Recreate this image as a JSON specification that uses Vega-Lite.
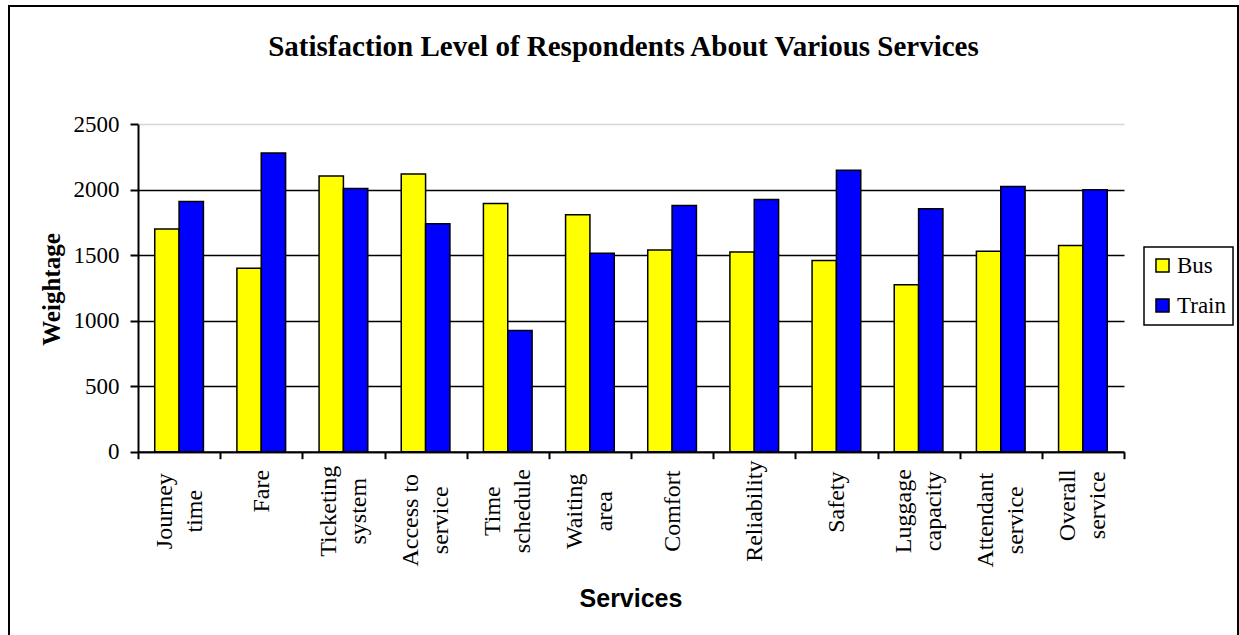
{
  "$schema": "https://vega.github.io/schema/vega-lite/v6.json",
  "width": 1229,
  "height": 640,
  "autosize": {"type": "none"},
  "padding": {"left": 9, "top": 6, "right": 1, "bottom": -11},
  "background": "white",
  "title": {
    "text": "Satisfaction Level of Respondents About Various Services",
    "font": "Liberation Serif",
    "fontSize": 29,
    "fontWeight": "bold",
    "color": "black",
    "anchor": "middle",
    "baseline": "alphabetic",
    "offset": -48.5,
    "dy": 30
  },
  "data": {
    "values": [
      {"service": "Journey time", "mode": "Bus", "weight": 1700},
      {"service": "Journey time", "mode": "Train", "weight": 1910},
      {"service": "Fare", "mode": "Bus", "weight": 1400},
      {"service": "Fare", "mode": "Train", "weight": 2280},
      {"service": "Ticketing system", "mode": "Bus", "weight": 2105},
      {"service": "Ticketing system", "mode": "Train", "weight": 2010},
      {"service": "Access to service", "mode": "Bus", "weight": 2120},
      {"service": "Access to service", "mode": "Train", "weight": 1740},
      {"service": "Time schedule", "mode": "Bus", "weight": 1895},
      {"service": "Time schedule", "mode": "Train", "weight": 925},
      {"service": "Waiting area", "mode": "Bus", "weight": 1810},
      {"service": "Waiting area", "mode": "Train", "weight": 1515},
      {"service": "Comfort", "mode": "Bus", "weight": 1540},
      {"service": "Comfort", "mode": "Train", "weight": 1880},
      {"service": "Reliability", "mode": "Bus", "weight": 1525},
      {"service": "Reliability", "mode": "Train", "weight": 1925},
      {"service": "Safety", "mode": "Bus", "weight": 1460},
      {"service": "Safety", "mode": "Train", "weight": 2150},
      {"service": "Luggage capacity", "mode": "Bus", "weight": 1275},
      {"service": "Luggage capacity", "mode": "Train", "weight": 1855},
      {"service": "Attendant service", "mode": "Bus", "weight": 1530},
      {"service": "Attendant service", "mode": "Train", "weight": 2025},
      {"service": "Overall service", "mode": "Bus", "weight": 1575},
      {"service": "Overall service", "mode": "Train", "weight": 2000}
    ]
  },
  "mark": {"type": "bar", "stroke": "black", "strokeWidth": 1.5},
  "encoding": {
    "x": {
      "field": "service",
      "type": "nominal",
      "sort": null,
      "scale": {"range": [129, 1115], "paddingInner": 0, "paddingOuter": 0},
      "axis": {
        "title": "Services",
        "offset": -194.3,
        "domainColor": "black",
        "domainWidth": 2,
        "tickColor": "black",
        "tickWidth": 2,
        "tickSize": 7,
        "tickBand": "extent",
        "grid": false,
        "labelAngle": 270,
        "labelAlign": "center",
        "labelBaseline": "middle",
        "labelFont": "Liberation Serif",
        "labelFontSize": 24,
        "labelLineHeight": 30,
        "labelColor": "black",
        "labelOverlap": false,
        "labelBound": false,
        "labelLimit": 300,
        "labelExpr": "!isString(datum.value) ? '' : datum.value == 'Access to service' ? ['Access to', 'service'] : split(datum.value, ' ')",
        "labelOffset": {"condition": {"test": "isString(datum.value) && indexof(datum.value, ' ') >= 0", "value": -15}, "value": 0},
        "labelPadding": {
          "condition": [
            {"test": "datum.value == 'Fare'", "value": 32},
            {"test": "datum.value == 'Safety'", "value": 43},
            {"test": "datum.value == 'Overall service'", "value": 46},
            {"test": "datum.value == 'Access to service' || datum.value == 'Attendant service'", "value": 61}
          ],
          "value": 52
        },
        "titleFont": "Liberation Sans",
        "titleFontSize": 25,
        "titleFontWeight": "bold",
        "titleColor": "black",
        "titleAlign": "center",
        "titleBaseline": "alphabetic",
        "titleX": 621.5,
        "titleY": 154.5
      }
    },
    "xOffset": {
      "field": "mode",
      "sort": ["Bus", "Train"],
      "scale": {"paddingInner": 0, "paddingOuter": 0.6875}
    },
    "y": {
      "field": "weight",
      "type": "quantitative",
      "scale": {"domain": [0, 2500], "range": [445.7, 118.3], "nice": false, "zero": true},
      "axis": {
        "title": "Weightage",
        "values": [0, 500, 1000, 1500, 2000, 2500],
        "format": "d",
        "offset": -129,
        "domainColor": "black",
        "domainWidth": 2,
        "tickColor": "black",
        "tickWidth": 2,
        "tickSize": 8,
        "labelFont": "Liberation Serif",
        "labelFontSize": 23,
        "labelColor": "black",
        "labelPadding": 11,
        "grid": true,
        "gridColor": {"condition": {"test": "datum.value == 2500", "value": "#d6d6d6"}, "value": "black"},
        "gridWidth": 1.5,
        "titleFont": "Liberation Serif",
        "titleFontSize": 25,
        "titleFontWeight": "bold",
        "titleColor": "black",
        "titleAngle": 270,
        "titleAlign": "center",
        "titleBaseline": "middle",
        "titleX": -86.5,
        "titleY": 283
      }
    },
    "color": {
      "field": "mode",
      "type": "nominal",
      "scale": {"domain": ["Bus", "Train"], "range": ["#FFFF00", "#0000FF"]},
      "legend": {
        "title": null,
        "orient": "none",
        "legendX": 1135,
        "legendY": 241,
        "direction": "vertical",
        "symbolType": "square",
        "symbolSize": 170,
        "symbolStrokeColor": "black",
        "symbolStrokeWidth": 1.5,
        "symbolOpacity": 1,
        "labelFont": "Liberation Serif",
        "labelFontSize": 23,
        "labelColor": "black",
        "labelOffset": 3,
        "rowPadding": 16,
        "padding": 7,
        "strokeColor": "black",
        "fillColor": "white"
      }
    }
  },
  "config": {
    "view": {"stroke": "black", "strokeWidth": 2},
    "legend": {"strokeWidth": 1.5}
  }
}
